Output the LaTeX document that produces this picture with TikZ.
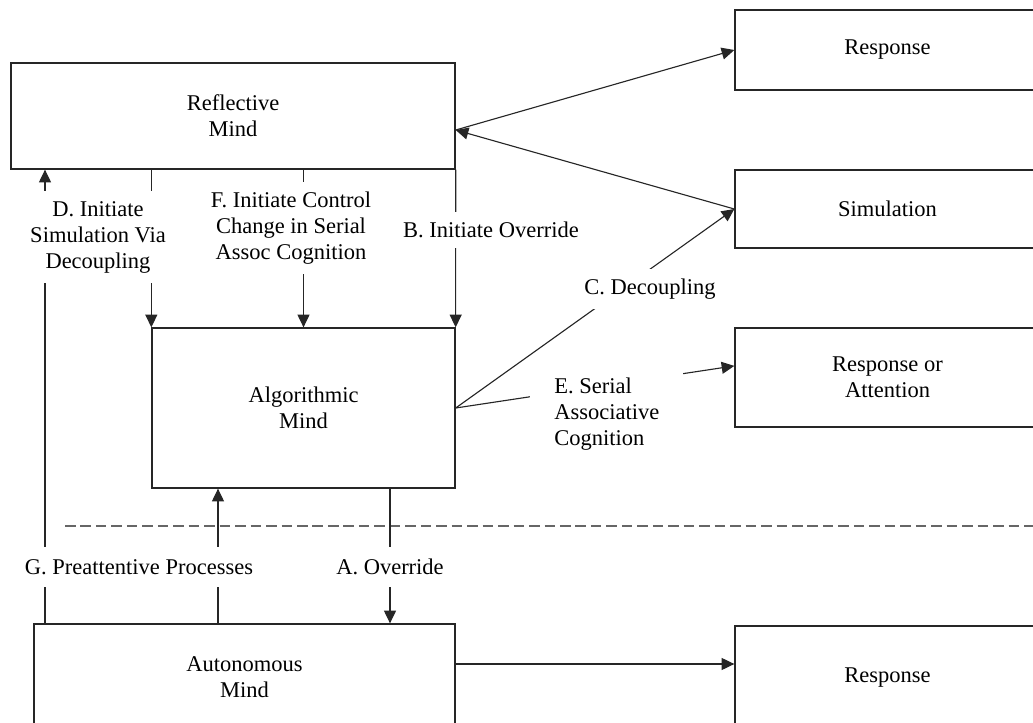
\documentclass[tikz,border=0pt]{standalone}
\usepackage{fontspec}
\setmainfont{Liberation Serif}
\usetikzlibrary{arrows.meta}

\begin{document}
\begin{tikzpicture}[x=0.025cm, y=-0.025cm,
    font=\fontsize{16}{18.5}\selectfont,
    mind/.style={draw=black!85, line width=0.9pt, align=center, inner sep=0pt},
    lab/.style={fill=white, align=center, inner xsep=0.15cm, inner ysep=0.25cm},
    arr/.style={draw=black!85, line width=0.8pt, -{Triangle[length=9pt,width=8.5pt]}},
    ln/.style={draw=black!85, line width=0.8pt}]
    % Keep the page to the size of the reference, boxes on the right are cut off
    \clip (0,0) rectangle (1033,723);

    % Draw the three minds on the left side
    \node[mind, minimum width=11.1cm, minimum height=2.65cm] (refl) at (233,116) {Reflective\\Mind};
    \node[mind, minimum width=7.575cm, minimum height=4cm] (alg) at (303.5,408) {Algorithmic\\Mind};
    \node[mind, minimum width=10.525cm, minimum height=2.65cm] (auto) at (244.5,677) {Autonomous\\Mind};

    % Draw the output boxes on the right side
    \node[mind, minimum width=7.625cm, minimum height=2cm] (resp1) at (887.5,50) {Response};
    \node[mind, minimum width=7.625cm, minimum height=1.95cm] (sim) at (887.5,209) {Simulation};
    \node[mind, minimum width=7.625cm, minimum height=2.475cm] (resp2) at (887.5,377.5) {Response or\\Attention};
    \node[mind, minimum width=7.625cm, minimum height=2.6cm] (resp3) at (887.5,678) {Response};

    % Dashed line between algorithmic and autonomous level
    \draw[black!60, line width=1.4pt, dash pattern=on 7.5pt off 3.5pt] (65,526) -- (1040,526);

    % Columns of the vertical arrows
    \coordinate (xG) at (45,0);
    \coordinate (xP) at (218,0);
    \coordinate (xA) at (390,0);

    % Reflective mind to response, simulation back to reflective mind
    \coordinate (rin) at ([yshift=-0.35cm]refl.east);
    \draw[arr] (rin) -- (resp1.west);
    \draw[arr] (sim.west) -- (rin);

    % Decoupling and serial associative cognition out of the algorithmic mind
    \draw[arr] (alg.east) -- (sim.west);
    \draw[arr] (alg.east) -- ([yshift=0.29cm]resp2.west);

    % Arrows from the reflective mind down to the algorithmic mind
    \draw[arr] (refl.south -| alg.north west) -- (alg.north west);
    \draw[arr] (refl.south -| alg.north) -- (alg.north);
    \draw[arr] (refl.south east) -- (alg.north east);

    % Arrows from the autonomous mind up
    \draw[arr] (auto.north -| xG) -- (refl.south -| xG);
    \draw[arr] (auto.north -| xP) -- (alg.south -| xP);
    % Override goes down
    \draw[arr] (alg.south -| xA) -- (auto.north -| xA);

    % Autonomous mind to response
    \draw[arr] ([yshift=0.325cm]auto.east) -- ([yshift=0.325cm]auto.east -| resp3.west);

    % Labels on the arrows (white fill breaks the lines)
    \node[lab] (labD) at (98,237) {D. Initiate\\Simulation Via\\Decoupling};
    \node[lab] (labF) at (291,228) {F. Initiate Control\\Change in Serial\\Assoc Cognition};
    \node[lab] (labB) at (491,230) {B. Initiate Override};
    \node[lab, inner xsep=0.2cm] (labC) at (650,289) {C. Decoupling};
    \node[lab, align=left, anchor=west, inner xsep=0.6cm] (labE) at (530,414) {E. Serial\\Associative\\Cognition};
    \node[lab, inner ysep=0.3cm] (labG) at (139,567) {G. Preattentive Processes};
    \node[lab, inner ysep=0.3cm] (labA) at (390,567) {A. Override};
\end{tikzpicture}
\end{document}
